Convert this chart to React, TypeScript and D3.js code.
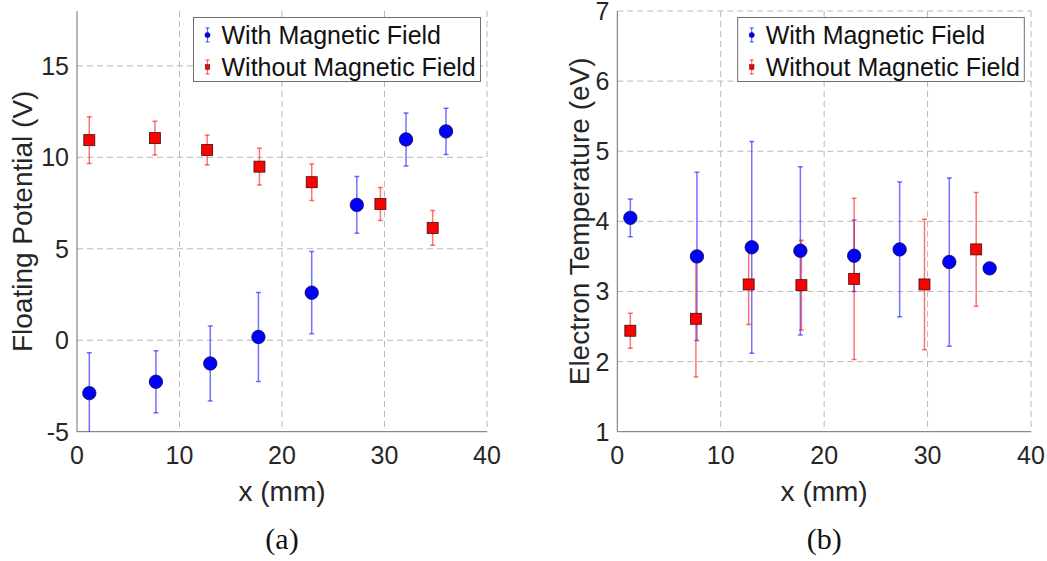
import React from 'react';
import * as d3 from 'd3';

// x positions (mm) and values
const xWithA = [1.2, 7.7, 13.0, 17.7, 22.9, 27.3, 32.1, 36.0];
const vfWith = [-2.89, -2.27, -1.27, 0.18, 2.6, 7.4, 10.98, 11.42];
const vfWithErr = [2.21, 1.7, 2.05, 2.43, 2.25, 1.55, 1.45, 1.27];
const xWithoutA = [1.2, 7.6, 12.7, 17.8, 22.9, 29.6, 34.7];
const vfWithout = [10.94, 11.05, 10.4, 9.49, 8.64, 7.45, 6.14];
const vfWithoutErr = [1.28, 0.92, 0.82, 1.0, 1.0, 0.9, 0.95];

const xWithB = [1.26, 7.7, 13.0, 17.7, 22.9, 27.3, 32.1, 36.0];
const teWith = [4.05, 3.5, 3.63, 3.58, 3.51, 3.6, 3.42, 3.33];
const teWithErr = [0.27, 1.2, 1.51, 1.2, 0.51, 0.96, 1.2, 0];
const xWithoutB = [1.26, 7.6, 12.7, 17.8, 22.9, 29.7, 34.7];
const teWithout = [2.44, 2.61, 3.1, 3.09, 3.18, 3.1, 3.6];
const teWithoutErr = [0.25, 0.83, 0.57, 0.64, 1.15, 0.93, 0.81];

const xTicks = [0, 10, 20, 30, 40];
const yTicksA = [-5, 0, 5, 10, 15];
const yTicksB = [1, 2, 3, 4, 5, 6, 7];
const legendLabels = ['With Magnetic Field', 'Without Magnetic Field'];

const FONT = '"Liberation Sans", Arial, Helvetica, sans-serif';
const BLUE = '#0000ff';
const RED = '#ff0000';
const AXIS = '#6e6e6e';
const GRID = '#b8b8b8';

type Series = { xs: number[]; ys: number[]; errs: number[]; color: string; shape: 'circle' | 'square' };

function Panel({ id, left, right, top, bottom, yDomain, yTicks, yLabel, yLabelOffset, caption, series, legendX, legendW }:
    { id: string; left: number; right: number; top: number; bottom: number; yDomain: [number, number]; yTicks: number[];
      yLabel: string; yLabelOffset: number; caption: string; series: Series[]; legendX: number; legendW: number })
{
    const x = d3.scaleLinear().domain([0, 40]).range([left, right]);
    const y = d3.scaleLinear().domain(yDomain).range([bottom, top]);
    const cx = (left + right) / 2;
    const cy = (top + bottom) / 2;

    return (
        <g>
            <defs>
                <clipPath id={ `clip-${ id }` }>
                    <rect x={ left } y={ top } width={ right - left } height={ bottom - top } />
                </clipPath>
            </defs>
            {/* grid */}
            { xTicks.filter((t) => t > 0).map((t) => (
                <line key={ `gx${ t }` } x1={ x(t) } x2={ x(t) } y1={ top } y2={ bottom }
                    stroke={ GRID } strokeDasharray="6,4" />
            )) }
            { yTicks.filter((t) => t > yDomain[0]).map((t) => (
                <line key={ `gy${ t }` } x1={ left } x2={ right } y1={ y(t) } y2={ y(t) }
                    stroke={ GRID } strokeDasharray="6,4" />
            )) }
            {/* axes */}
            <line x1={ left } x2={ left } y1={ top } y2={ bottom } stroke={ AXIS } />
            <line x1={ left } x2={ right } y1={ bottom } y2={ bottom } stroke={ AXIS } />

            { xTicks.map((t) => (
                <text key={ `tx${ t }` } x={ x(t) } y={ bottom + 32 } textAnchor="middle"
                    fontFamily={ FONT } fontSize={ 25 } fill="#262626">{ t }</text>
            )) }
            { yTicks.map((t) => (
                <text key={ `ty${ t }` } x={ left - 8 } y={ y(t) } dy="0.36em" textAnchor="end"
                    fontFamily={ FONT } fontSize={ 25 } fill="#262626">{ t }</text>
            )) }

            <text x={ cx } y={ bottom + 69 } textAnchor="middle" fontFamily={ FONT } fontSize={ 28 } fill="#262626">x (mm)</text>
            <text transform={ `translate(${ left - yLabelOffset },${ cy }) rotate(-90)` } textAnchor="middle"
                fontFamily={ FONT } fontSize={ 28 } fill="#262626">{ yLabel }</text>
            <text x={ cx } y={ bottom + 117 } textAnchor="middle" fontFamily='"Liberation Serif", "DejaVu Serif", serif'
                fontSize={ 30 } fill="#111">{ caption }</text>

            <g clipPath={ `url(#clip-${ id })` }>
                {/* error bars first, markers on top */}
                { series.map((s, si) => s.xs.map((xv, i) =>
                {
                    if (!s.errs[i]) return null;
                    const px = x(xv);
                    const y1 = y(s.ys[i] + s.errs[i]);
                    const y2 = y(s.ys[i] - s.errs[i]);
                    return (
                        <g key={ `e${ si }-${ i }` } stroke={ s.color } strokeOpacity={ 0.55 } strokeWidth={ 1.5 }>
                            <line x1={ px } x2={ px } y1={ y1 } y2={ y2 } />
                            <line x1={ px - 2.5 } x2={ px + 2.5 } y1={ y1 } y2={ y1 } />
                            <line x1={ px - 2.5 } x2={ px + 2.5 } y1={ y2 } y2={ y2 } />
                        </g>
                    );
                })) }
                { series.map((s, si) => s.xs.map((xv, i) =>
                    s.shape === 'circle'
                        ? <circle key={ `m${ si }-${ i }` } cx={ x(xv) } cy={ y(s.ys[i]) } r={ 6.7 }
                            fill={ s.color } stroke="#0a0a40" strokeWidth={ 0.8 } />
                        : <rect key={ `m${ si }-${ i }` } x={ x(xv) - 5.5 } y={ y(s.ys[i]) - 5.5 } width={ 11 } height={ 11 }
                            fill={ s.color } stroke="#3a1010" strokeWidth={ 0.8 } />
                )) }
            </g>

            {/* legend */}
            <rect x={ legendX } y={ 17.5 } width={ legendW } height={ 64 } fill="#fff" stroke={ AXIS } />
            { series.map((s, si) =>
            {
                const ly = 35 + si * 32;
                const lx = legendX + 14;
                return (
                    <g key={ `l${ si }` }>
                        <g stroke={ s.color } strokeOpacity={ 0.6 } strokeWidth={ 1.2 }>
                            <line x1={ lx } x2={ lx } y1={ ly - 7 } y2={ ly + 7 } />
                            <line x1={ lx - 2 } x2={ lx + 2 } y1={ ly - 7 } y2={ ly - 7 } />
                            <line x1={ lx - 2 } x2={ lx + 2 } y1={ ly + 7 } y2={ ly + 7 } />
                        </g>
                        { s.shape === 'circle'
                            ? <circle cx={ lx } cy={ ly } r={ 2.6 } fill={ s.color } stroke="#0a0a40" strokeWidth={ 0.5 } />
                            : <rect x={ lx - 2.3 } y={ ly - 2.3 } width={ 4.6 } height={ 4.6 } fill={ s.color } stroke="#3a1010" strokeWidth={ 0.5 } /> }
                        <text x={ legendX + 28 } y={ ly } dy="0.36em" fontFamily={ FONT } fontSize={ 25 } fill="#111">
                            { legendLabels[si] }
                        </text>
                    </g>
                );
            }) }
        </g>
    );
}

export default function App()
{
    const seriesA: Series[] = [
        { xs: xWithA, ys: vfWith, errs: vfWithErr, color: BLUE, shape: 'circle' },
        { xs: xWithoutA, ys: vfWithout, errs: vfWithoutErr, color: RED, shape: 'square' },
    ];
    const seriesB: Series[] = [
        { xs: xWithB, ys: teWith, errs: teWithErr, color: BLUE, shape: 'circle' },
        { xs: xWithoutB, ys: teWithout, errs: teWithoutErr, color: RED, shape: 'square' },
    ];

    return (
        <svg width={ 1047 } height={ 561 } style={ { position: 'absolute', left: 0, top: 0, background: '#fff' } }>
            <Panel id="a" left={ 77 } right={ 487 } top={ 11 } bottom={ 431.7 } yDomain={ [-5, 18] } yTicks={ yTicksA }
                yLabel="Floating Potential (V)" yLabelOffset={ 45 } caption="(a)" series={ seriesA }
                legendX={ 193.5 } legendW={ 287 } />
            <Panel id="b" left={ 617.3 } right={ 1031 } top={ 11 } bottom={ 431.7 } yDomain={ [1, 7] } yTicks={ yTicksB }
                yLabel="Electron Temperature (eV)" yLabelOffset={ 28 } caption="(b)" series={ seriesB }
                legendX={ 737.7 } legendW={ 286.6 } />
        </svg>
    );
}
